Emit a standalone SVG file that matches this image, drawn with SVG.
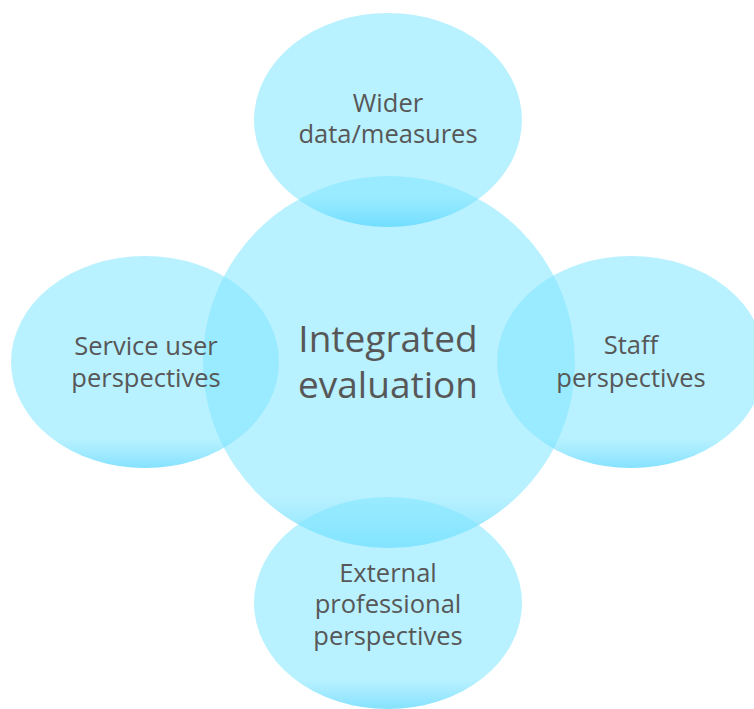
<svg xmlns="http://www.w3.org/2000/svg" width="754" height="709" viewBox="0 0 754 709">
  <defs>
    <!-- translucent cyan fill that deepens toward the bottom edge -->
    <linearGradient id="bubbleFill" x1="0" y1="0" x2="0" y2="1">
      <stop offset="0" stop-color="#81E6FF" stop-opacity="0.56"/>
      <stop offset="0.86" stop-color="#81E6FF" stop-opacity="0.56"/>
      <stop offset="1" stop-color="#55D6FF" stop-opacity="0.72"/>
    </linearGradient>
  </defs>
  <style>
    .bubble { fill: url(#bubbleFill); }
    .label { font-family: "Open Sans", "Liberation Sans", sans-serif; fill: #575757; text-anchor: middle; font-size: 25.5px; }
    .label-main { font-size: 37px; }
  </style>
  <rect width="754" height="709" fill="#FFFFFF"/>
  <g id="connectors"></g>

  <!-- central circle first so the outer labels sit on top of it -->
  <g id="node-center">
    <circle class="bubble" cx="389" cy="362" r="186"/>
    <text class="label label-main" x="388" y="352">Integrated</text>
    <text class="label label-main" x="388" y="398">evaluation</text>
  </g>

  <g id="node-top">
    <ellipse class="bubble" cx="388" cy="120" rx="134" ry="107"/>
    <text class="label" x="388" y="112">Wider</text>
    <text class="label" x="388" y="143">data/measures</text>
  </g>

  <g id="node-left">
    <ellipse class="bubble" cx="145" cy="362" rx="134" ry="106"/>
    <text class="label" x="146" y="355">Service user</text>
    <text class="label" x="146" y="387">perspectives</text>
  </g>

  <g id="node-right">
    <ellipse class="bubble" cx="631" cy="362" rx="134" ry="106"/>
    <text class="label" x="631" y="354">Staff</text>
    <text class="label" x="631" y="387">perspectives</text>
  </g>

  <g id="node-bottom">
    <ellipse class="bubble" cx="388" cy="603" rx="134" ry="106"/>
    <text class="label" x="388" y="582">External</text>
    <text class="label" x="388" y="613">professional</text>
    <text class="label" x="388" y="645">perspectives</text>
  </g>
</svg>
